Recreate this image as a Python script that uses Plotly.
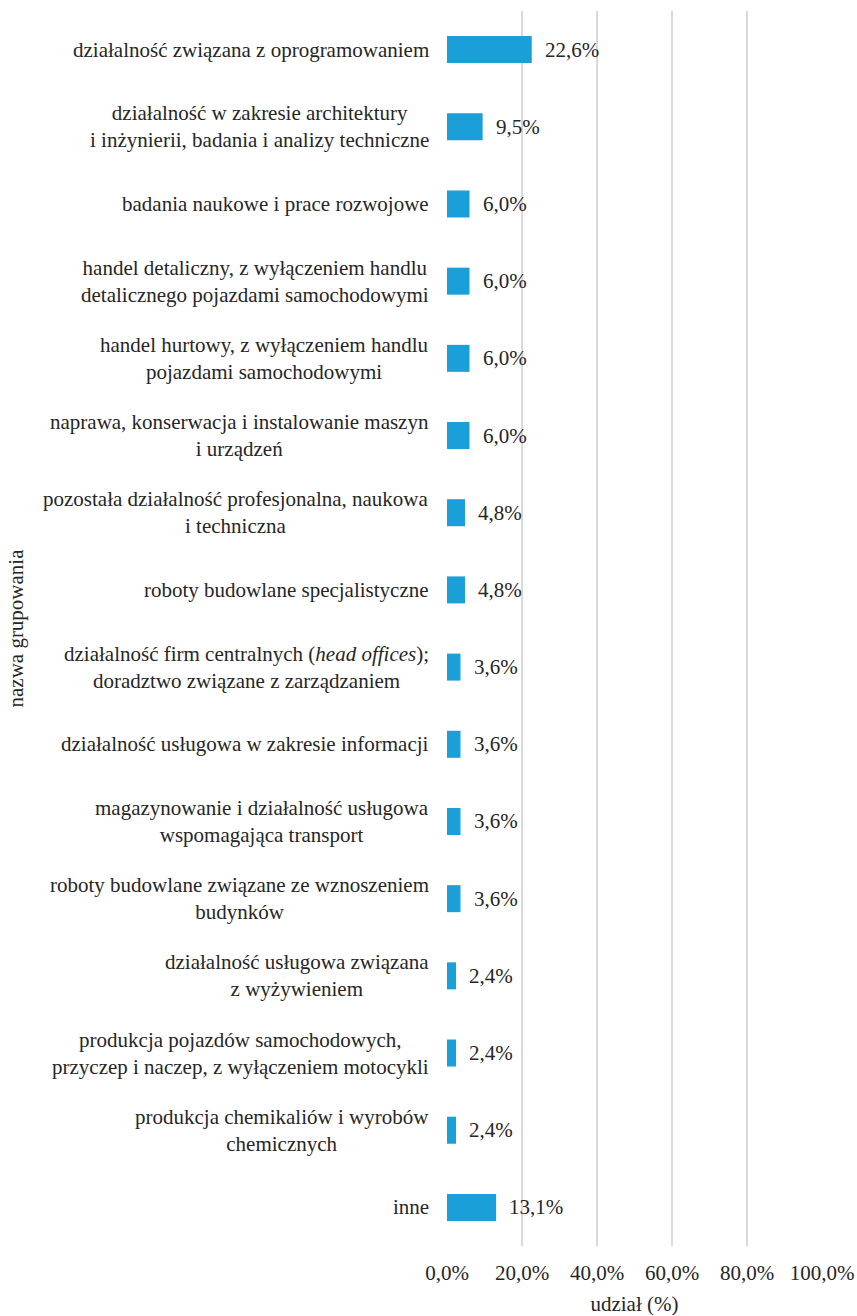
import plotly.graph_objects as go

categories = [
    "działalność związana z oprogramowaniem",
    "działalność w zakresie architektury<br>i inżynierii, badania i analizy techniczne",
    "badania naukowe i prace rozwojowe",
    "handel detaliczny, z wyłączeniem handlu<br>detalicznego pojazdami samochodowymi",
    "handel hurtowy, z wyłączeniem handlu<br>pojazdami samochodowymi",
    "naprawa, konserwacja i instalowanie maszyn<br>i urządzeń",
    "pozostała działalność profesjonalna, naukowa<br>i techniczna",
    "roboty budowlane specjalistyczne",
    "działalność firm centralnych (<i>head offices</i>);<br>doradztwo związane z zarządzaniem",
    "działalność usługowa w zakresie informacji",
    "magazynowanie i działalność usługowa<br>wspomagająca transport",
    "roboty budowlane związane ze wznoszeniem<br>budynków",
    "działalność usługowa związana<br>z wyżywieniem",
    "produkcja pojazdów samochodowych,<br>przyczep i naczep, z wyłączeniem motocykli",
    "produkcja chemikaliów i wyrobów<br>chemicznych",
    "inne",
]
shares = [22.6, 9.5, 6.0, 6.0, 6.0, 6.0, 4.8, 4.8, 3.6, 3.6, 3.6, 3.6, 2.4, 2.4, 2.4, 13.1]
x_ticks = [0, 20, 40, 60, 80, 100]
x_tick_labels = ["0,0%", "20,0%", "40,0%", "60,0%", "80,0%", "100,0%"]

FONT = "Liberation Serif, Times New Roman, serif"
SIZE = 21
TEXT = "#262626"
BAR = "#1a9fd8"

ids = list(range(len(categories)))
labels = [f"{v:.1f}%".replace(".", ",") for v in shares]

fig = go.Figure(
    go.Bar(
        x=shares,
        y=ids,
        orientation="h",
        marker=dict(color=BAR, line=dict(width=0)),
        width=0.35,
        hoverinfo="skip",
    )
)

# value labels just right of each bar end
for i, (v, t) in enumerate(zip(shares, labels)):
    fig.add_annotation(
        x=v, xref="x", y=i, yref="y", xshift=11,
        text=t, showarrow=False, xanchor="left", yanchor="middle",
        font=dict(family=FONT, size=SIZE, color=TEXT),
    )

# category labels, centred line by line, placed on the category axis
for i, c in enumerate(categories):
    fig.add_annotation(
        x=0, xref="paper", xshift=-16,
        y=i, yref="y",
        text=c, showarrow=False,
        xanchor="right", yanchor="middle", align="center",
        font=dict(family=FONT, size=SIZE, color=TEXT),
    )

# vertical axis title
fig.add_annotation(
    x=15, xref="paper", y=0.5, yref="paper",
    text="nazwa grupowania", showarrow=False, textangle=-90,
    xanchor="center", yanchor="middle",
    font=dict(family=FONT, size=SIZE, color=TEXT),
)

fig.update_layout(
    width=857, height=1316,
    margin=dict(l=447, r=35, t=11, b=70, autoexpand=False),
    paper_bgcolor="white", plot_bgcolor="white",
    showlegend=False,
    font=dict(family=FONT, size=SIZE, color=TEXT),
)
fig.layout.annotations[-1].x = (15 - 447) / 375

fig.update_xaxes(
    range=[0, 100], tickvals=x_ticks, ticktext=x_tick_labels,
    showgrid=True, gridcolor="#d9d9d9", gridwidth=2,
    zeroline=False, showline=False, ticks="",
    ticklabelstandoff=12, automargin=False,
    tickfont=dict(family=FONT, size=SIZE, color=TEXT),
    title=dict(text="udział (%)", font=dict(family=FONT, size=SIZE, color=TEXT)),
)
fig.update_yaxes(
    range=[len(categories) - 0.5, -0.5], tickvals=ids, showticklabels=False,
    showgrid=False, zeroline=False, showline=False, ticks="", automargin=False,
)

fig.write_html("out.html")
